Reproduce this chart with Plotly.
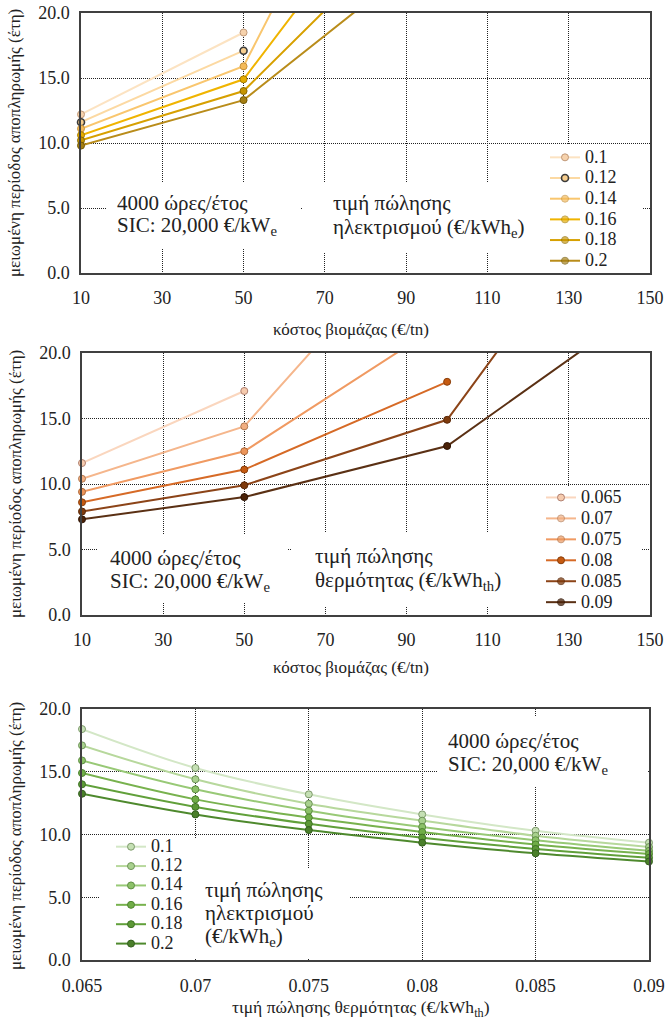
import plotly.graph_objects as go

# ---------------- data ----------------
# Panel 1: payback vs biomass cost, per electricity selling price
biomass_cost = [10, 50, 100]
elec_prices = ["0.1", "0.12", "0.14", "0.16", "0.18", "0.2"]
p1_values = [
    [12.2, 18.5],
    [11.6, 17.1],
    [11.1, 15.9, 46.5],
    [10.6, 14.9, 35.5],
    [10.2, 14.0, 29.5],
    [9.8, 13.3, 25.7],
]

# Panel 2: payback vs biomass cost, per heat selling price
heat_prices = ["0.065", "0.07", "0.075", "0.08", "0.085", "0.09"]
p2_cost = [10, 50, 100, 150]
p2_values = [
    [11.6, 17.1],
    [10.4, 14.4, 31.7],
    [9.4, 12.5, 22.5],
    [8.6, 11.1, 17.8],
    [7.9, 9.9, 14.9, 36.0],
    [7.3, 9.0, 12.9, 23.9],
]

# Panel 3: payback vs heat selling price, per electricity selling price
heat_axis = [0.065, 0.07, 0.075, 0.08, 0.085, 0.09]
heat_ticktext = ["0.065", "0.07", "0.075", "0.08", "0.085", "0.09"]
p3_values = [
    [18.4, 15.3, 13.2, 11.6, 10.3, 9.35],
    [17.1, 14.4, 12.45, 11.1, 9.9, 9.0],
    [15.9, 13.6, 11.9, 10.6, 9.55, 8.7],
    [14.9, 12.8, 11.35, 10.2, 9.2, 8.45],
    [14.0, 12.2, 10.85, 9.75, 8.85, 8.15],
    [13.25, 11.6, 10.35, 9.35, 8.5, 7.85],
]

Y_MAX = 20
y_ticks = [0, 5, 10, 15, 20]
y_ticktext = ["0.0", "5.0", "10.0", "15.0", "20.0"]
cost_ticks = [10, 30, 50, 70, 90, 110, 130, 150]

# ---------------- styles ----------------
gold_line = ["#FCE3C2", "#FCD9A2", "#F9C66E", "#F0B400", "#D7A000", "#B98C1A"]
gold_fill = ["#F6D2AC", "#F7CE8E", "#F4BA58", "#E6AC00", "#C69400", "#A47E12"]
gold_edge = ["#C09878", "#3A3A3A", "#C8923A", "#A87E00", "#8C6A00", "#735800"]

rust_line = ["#FAD6BE", "#F5B68C", "#F09A62", "#D66A26", "#8C4418", "#5A3014"]
rust_fill = ["#F6CBAE", "#F2AE80", "#EC955A", "#C55A11", "#7E3A0C", "#4A2208"]
rust_edge = ["#B08070", "#B07850", "#B06A3A", "#8A3E0A", "#5A2808", "#2E1404"]

green_line = ["#D3E7C6", "#B7D89C", "#98C976", "#78B24E", "#61A03A", "#4E892D"]
green_fill = ["#C5E0B4", "#A9D18E", "#8CC168", "#70AD47", "#5C9836", "#4A7F2A"]
green_edge = ["#7E9A6C", "#6E9458", "#5E8E42", "#4E8430", "#3E7224", "#335E1E"]

SERIF = "Liberation Serif"
INK = "#222222"
W, H = 665, 1020

# pixel boxes of the three plot areas: (left, right, top, bottom)
boxes = [(81, 650, 13, 273), (82, 650, 353, 615), (82, 649, 709, 960)]


def px_x(px):
    return px / W


def px_y(py):
    return 1 - py / H


fig = go.Figure()

panels = [
    (biomass_cost, p1_values, elec_prices, gold_line, gold_fill, gold_edge, "linear"),
    (p2_cost, p2_values, heat_prices, rust_line, rust_fill, rust_edge, "linear"),
    (heat_axis, p3_values, elec_prices, green_line, green_fill, green_edge, "spline"),
]

for k, (xs, vals, names, lc, fc, ec, shape) in enumerate(panels):
    ax = "" if k == 0 else str(k + 1)
    leg = "legend" if k == 0 else f"legend{k + 1}"
    for i, (name, ys) in enumerate(zip(names, vals)):
        edge_w = 1.6 if (k == 0 and i == 1) else 1
        # points beyond the y-axis range get no visible marker (line still runs off-chart)
        vis = [1 if v <= Y_MAX else 0 for v in ys]
        fig.add_trace(go.Scatter(
            x=xs[:len(ys)], y=ys, mode="lines+markers",
            name=f'<span style="font-size:18px">{name}</span>',
            line=dict(color=lc[i], width=2, shape=shape),
            marker=dict(size=7, color=fc[i], opacity=vis,
                        line=dict(color=ec[i], width=edge_w)),
            xaxis="x" + ax, yaxis="y" + ax, legend=leg, cliponaxis=False,
        ))

grid = dict(showgrid=True, gridcolor=INK, gridwidth=1, griddash="1px,1px",
            showline=True, linecolor="#404040", linewidth=1.5, mirror=True,
            zeroline=False, ticks="", automargin=False,
            tickfont=dict(family=SERIF, size=18, color=INK))

layout = dict(width=W, height=H, margin=dict(l=0, r=0, t=0, b=0),
              paper_bgcolor="white", plot_bgcolor="white", showlegend=True)

for k, (L, R, T, B) in enumerate(boxes):
    ax = "" if k == 0 else str(k + 1)
    xdom = [px_x(L), px_x(R)]
    ydom = [px_y(B), px_y(T)]
    if k < 2:
        xa = dict(grid, domain=xdom, range=[10, 150], tickvals=cost_ticks,
                  ticklabelstandoff=8, anchor="y" + ax)
    else:
        xa = dict(grid, domain=xdom, range=[0.065, 0.09], tickvals=heat_axis,
                  ticktext=heat_ticktext, ticklabelstandoff=9, anchor="y" + ax)
    ya = dict(grid, domain=ydom, range=[0, Y_MAX], tickvals=y_ticks,
              ticktext=y_ticktext, ticklabelstandoff=6, anchor="x" + ax)
    layout["xaxis" + ax] = xa
    layout["yaxis" + ax] = ya


def legend_at(x, y, size):
    return dict(font=dict(family=SERIF, size=size, color=INK),
                bgcolor="rgba(0,0,0,0)", borderwidth=0, itemwidth=30,
                tracegroupgap=0, xanchor="left", yanchor="top",
                xref="paper", yref="paper", x=px_x(x), y=px_y(y))


layout["legend"] = legend_at(545, 142, 13.6)
layout["legend2"] = legend_at(541, 482, 13.8)
layout["legend3"] = legend_at(111, 832, 12.6)

fig.update_layout(**layout)

# white masks hiding the grid behind the text blocks and legends
masks = [
    (0, 107, 300, 183, 248), (0, 302, 545, 183, 253), (0, 545, 642, 145, 272),
    (1, 97, 288, 535, 602), (1, 292, 545, 533, 607), (1, 540, 642, 487, 614),
    (2, 437, 647, 717, 787), (2, 100, 202, 838, 958), (2, 202, 350, 868, 958),
]
for k, x0, x1, y0, y1 in masks:
    L, R, T, B = boxes[k]
    ax = "" if k == 0 else str(k + 1)
    fig.add_shape(type="rect", layer="above",
                  xref=f"x{ax} domain", yref=f"y{ax} domain",
                  x0=(x0 - L) / (R - L), x1=(x1 - L) / (R - L),
                  y0=(B - y1) / (B - T), y1=(B - y0) / (B - T),
                  fillcolor="white", line=dict(width=0))


def text(s, x, y, size=21, anchor="left", angle=0):
    fig.add_annotation(text=s, x=px_x(x), y=px_y(y), xref="paper", yref="paper",
                       xanchor=anchor, yanchor="middle", showarrow=False,
                       textangle=angle,
                       font=dict(family=SERIF, size=size, color=INK))


# panel texts
text("4000 ώρες/έτος", 115, 203)
text("SIC: 20,000 €/kW<sub>e</sub>", 115, 226)
text("τιμή πώλησης", 331, 203)
text("ηλεκτρισμού (€/kWh<sub>e</sub>)", 331, 228)

text("4000 ώρες/έτος", 108, 558)
text("SIC: 20,000 €/kW<sub>e</sub>", 108, 582)
text("τιμή πώλησης", 313, 556)
text("θερμότητας (€/kWh<sub>th</sub>)", 313, 581)

text("4000 ώρες/έτος", 446, 741)
text("SIC: 20,000 €/kW<sub>e</sub>", 446, 765)
text("τιμή πώλησης", 203, 890)
text("ηλεκτρισμού", 203, 913)
text("(€/kWh<sub>e</sub>)", 203, 937)

# axis titles
ytitle = "μειωμένη περίοδος αποπληρωμής (έτη)"
text(ytitle, 15, 143, size=17, anchor="center", angle=-90)
text(ytitle, 15, 484, size=17, anchor="center", angle=-90)
text(ytitle, 15, 836, size=17, anchor="center", angle=-90)
text("κόστος βιομάζας (€/tn)", 351, 330, size=17, anchor="center")
text("κόστος βιομάζας (€/tn)", 351, 667, size=17, anchor="center")
text("τιμή πώλησης θερμότητας (€/kWh<sub>th</sub>)", 361, 1008, size=17.5, anchor="center")

fig.write_html("out.html")
